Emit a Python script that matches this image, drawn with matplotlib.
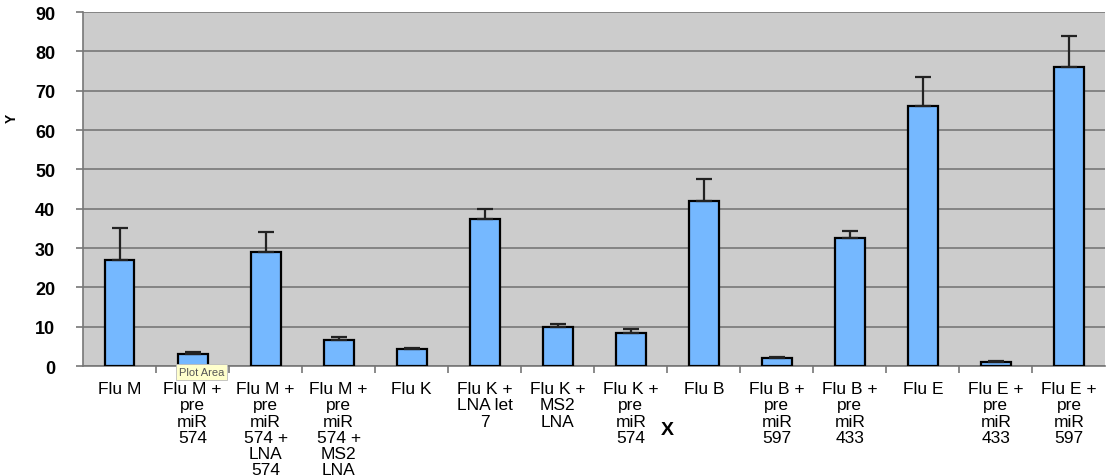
import numpy as np
import matplotlib.pyplot as plt

plt.rcParams['font.family'] = ['Liberation Sans', 'DejaVu Sans']

labels = ["Flu M", "Flu M +\npre\nmiR\n574", "Flu M +\npre\nmiR\n574 +\nLNA\n574",
          "Flu M +\npre\nmiR\n574 +\nMS2\nLNA", "Flu K", "Flu K +\nLNA let\n7",
          "Flu K +\nMS2\nLNA", "Flu K +\npre\nmiR\n574", "Flu B", "Flu B +\npre\nmiR\n597",
          "Flu B +\npre\nmiR\n433", "Flu E", "Flu E +\npre\nmiR\n433", "Flu E +\npre\nmiR\n597"]
values = [27, 3, 29, 6.5, 4.3, 37.5, 9.8, 8.3, 42, 2, 32.5, 66, 1, 76]
errors = [8, 0.6, 5, 0.8, 0.3, 2.5, 0.8, 1.0, 5.5, 0.3, 1.8, 7.5, 0.15, 8]

fig = plt.figure(figsize=(11.11, 4.77), dpi=100)
ax = fig.add_axes([0.0747, 0.2306, 0.9203, 0.7421])
ax.set_facecolor('#cccccc')

x = np.arange(len(labels))
ax.bar(x, values, width=0.41, color='#75b8ff', edgecolor='black', linewidth=1.6, zorder=3)
ax.errorbar(x, values, yerr=[np.zeros(len(errors)), errors], fmt='none', ecolor='#222222',
            elinewidth=1.6, capsize=6, capthick=1.6, zorder=4)

ax.set_xlim(-0.5, len(labels) - 0.5)
ax.set_ylim(0, 90)
ax.set_yticks(range(0, 91, 10))
ax.yaxis.grid(True, color='#777777', linewidth=1.2, zorder=0)
for s in ['top', 'right']:
    ax.spines[s].set_visible(False)
ax.spines['left'].set_color('#777777')
ax.spines['bottom'].set_color('#777777')
ax.spines['left'].set_linewidth(1.2)
ax.spines['bottom'].set_linewidth(1.2)

ax.set_xticks(x)
ax.set_xticklabels(labels, fontsize=12.5, linespacing=1.1, va='top')
ax.tick_params(axis='x', length=0, pad=11)
ax.set_xticks(x[:-1] + 0.5, minor=True)
ax.tick_params(axis='x', which='minor', length=5, color='#777777', width=1.2)
ax.tick_params(axis='y', length=5, color='#777777', width=1.2, pad=15, labelsize=13)
for t in ax.get_yticklabels():
    t.set_fontweight('bold')

fig.text(0.601, 0.098, 'X', fontsize=14, fontweight='bold', ha='center', va='center')
fig.text(0.011, 0.752, 'Y', fontsize=10, fontweight='bold', rotation=90, ha='center', va='center')

# tooltip left over from the spreadsheet
fig.text(0.1815, 0.218, 'Plot Area', fontsize=8, color='#555555', ha='center', va='center',
         bbox=dict(boxstyle='square,pad=0.25', facecolor='#ffffcc', edgecolor='#bbbbbb', linewidth=0.6))

fig.savefig('out.png', dpi=100)
